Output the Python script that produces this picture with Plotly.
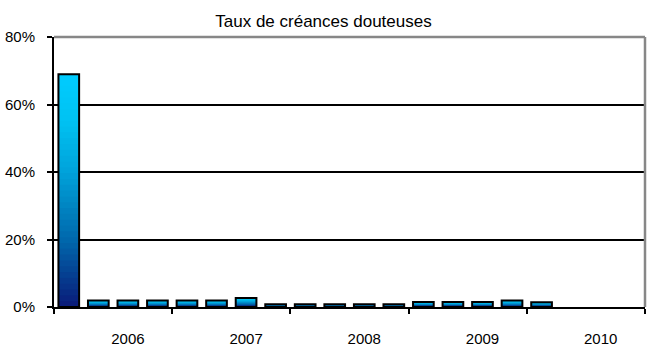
import plotly.graph_objects as go
from plotly.colors import sample_colorscale

# Quarterly doubtful-loan ratio (%), one slot per quarter
quarters = list(range(20))
ratio = [69.0, 1.9, 1.9, 1.9, 1.9, 1.9, 2.7, 0.8, 0.8, 0.8, 0.8, 0.8,
         1.5, 1.5, 1.5, 1.9, 1.4, None, None, None]
year_positions = [2, 6, 10, 14, 18]
year_labels = ["2006", "2007", "2008", "2009", "2010"]
y_ticks = [0, 20, 40, 60, 80]
y_tick_labels = ["0%", "20%", "40%", "60%", "80%"]

# Vertical fill gradient per bar (dark navy at the base, cyan at the top)
gradient = [[0.0, "#0a1a78"], [0.29, "#0068ac"], [0.58, "#00a2da"],
            [0.8, "#00c2f2"], [1.0, "#00ccff"]]
layers = 40

fig = go.Figure()
for k in range(layers):
    frac = (layers - k) / layers
    color = sample_colorscale(gradient, [(layers - k - 0.5) / layers])[0]
    fig.add_trace(go.Bar(
        x=quarters,
        y=[v * frac if v is not None else None for v in ratio],
        marker=dict(color=color, line=dict(width=0)),
        showlegend=False, hoverinfo="skip",
    ))

# Outline of each bar
fig.add_trace(go.Bar(
    x=quarters, y=ratio,
    marker=dict(color="rgba(0,0,0,0)", line=dict(color="black", width=2)),
    showlegend=False,
))

font = dict(family="Liberation Sans, Arial, sans-serif", size=15, color="black")

fig.update_layout(
    width=647, height=349,
    margin=dict(l=54, r=2, t=37, b=35),
    paper_bgcolor="white", plot_bgcolor="white",
    barmode="overlay", bargap=0.3,
    font=font,
    title=dict(text="Taux de créances douteuses", x=0.5, xanchor="center",
               y=0.94, yanchor="middle", font=dict(size=17, color="black")),
    xaxis=dict(
        range=[-0.5, 19.5], tickmode="array", tickvals=year_positions,
        ticktext=year_labels, ticks="", showgrid=False, zeroline=False,
        showline=True, linecolor="black", linewidth=2,
        ticklabelstandoff=17,
        minor=dict(tickmode="linear", tick0=-0.5, dtick=4, ticks="outside",
                   ticklen=5, tickwidth=2, tickcolor="black", showgrid=False),
    ),
    yaxis=dict(
        range=[0, 80], tickmode="array", tickvals=y_ticks,
        ticktext=y_tick_labels,
        ticks="outside", ticklen=5, tickwidth=2, tickcolor="black",
        showgrid=True, gridcolor="black", gridwidth=2, zeroline=False,
        showline=True, linecolor="black", linewidth=2,
        ticklabelstandoff=9,
    ),
    shapes=[
        dict(type="line", xref="paper", yref="paper", x0=0, x1=1, y0=1, y1=1,
             line=dict(color="#878787", width=2.5), layer="above"),
        dict(type="line", xref="paper", yref="paper", x0=1, x1=1, y0=0, y1=1,
             line=dict(color="#878787", width=2.5), layer="above"),
    ],
)

fig.write_html("out.html")
